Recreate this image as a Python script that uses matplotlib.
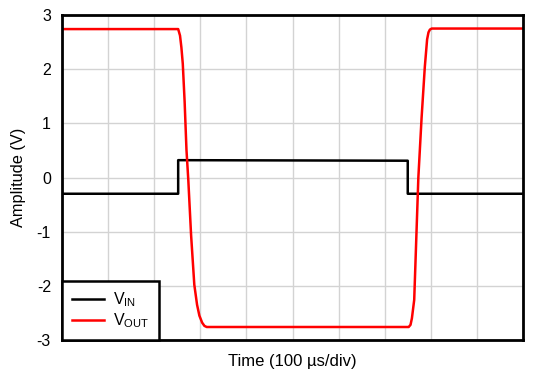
import matplotlib
matplotlib.use('Agg')
import matplotlib.pyplot as plt

plt.rcParams['font.family'] = ['Liberation Sans', 'DejaVu Sans']
plt.rcParams['axes.unicode_minus'] = False
plt.rcParams['mathtext.fontset'] = 'custom'
plt.rcParams['mathtext.rm'] = 'Liberation Sans'

# time in divisions (100 us/div), voltages in V
t_in = [0.0, 2.52, 2.52, 7.50, 7.50, 10.0]
v_in = [-0.30, -0.30, 0.32, 0.31, -0.30, -0.30]

t_out = [0.0, 2.52, 2.56, 2.59, 2.62, 2.66, 2.70, 2.74, 2.80, 2.87, 2.93, 2.98,
         3.04, 3.09, 3.14, 7.52, 7.56, 7.59, 7.64, 7.73, 7.80, 7.87, 7.92,
         7.95, 7.98, 8.02, 10.0]
v_out = [2.74, 2.74, 2.62, 2.40, 2.10, 1.40, 0.51, -0.05, -1.06, -1.98, -2.35, -2.55,
         -2.68, -2.74, -2.76, -2.76, -2.72, -2.60, -2.26, 0.0, 1.10, 2.04, 2.55,
         2.68, 2.73, 2.75, 2.75]

fig = plt.figure(figsize=(5.5, 3.71), dpi=100)
ax = fig.add_axes([62/550, 1-340/371, 461/550, 325/371])

ax.plot(t_in, v_in, color='black', lw=1.8, label=r'V$_{\mathregular{IN}}$', zorder=3)
ax.plot(t_out, v_out, color='#ff0000', lw=1.8, label=r'V$_{\mathregular{OUT}}$', zorder=4)

ax.set_xlim(0, 10)
ax.set_ylim(-3, 3)
ax.set_xticks(range(0, 11))
ax.tick_params(axis='x', labelbottom=False)
ax.set_yticks([-3, -2, -1, 0, 1, 2, 3])
ax.tick_params(length=0, labelsize=11.5, pad=8)
ax.grid(True, color='#d3d3d3', lw=1)
for s in ax.spines.values():
    s.set_linewidth(2)
    s.set_zorder(5)

ax.set_xlabel('Time (100 µs/div)', fontsize=12, labelpad=10)
ax.set_ylabel('Amplitude (V)', fontsize=11.8, labelpad=8)

leg = ax.legend(loc='lower left', borderaxespad=0, fancybox=False, framealpha=1,
                edgecolor='black', fontsize=11.5, handlelength=2.0,
                borderpad=0.6, labelspacing=0.15, handletextpad=0.6)
leg.get_frame().set_linewidth(1.8)
leg.set_zorder(6)

fig.savefig('out.png', dpi=100)
